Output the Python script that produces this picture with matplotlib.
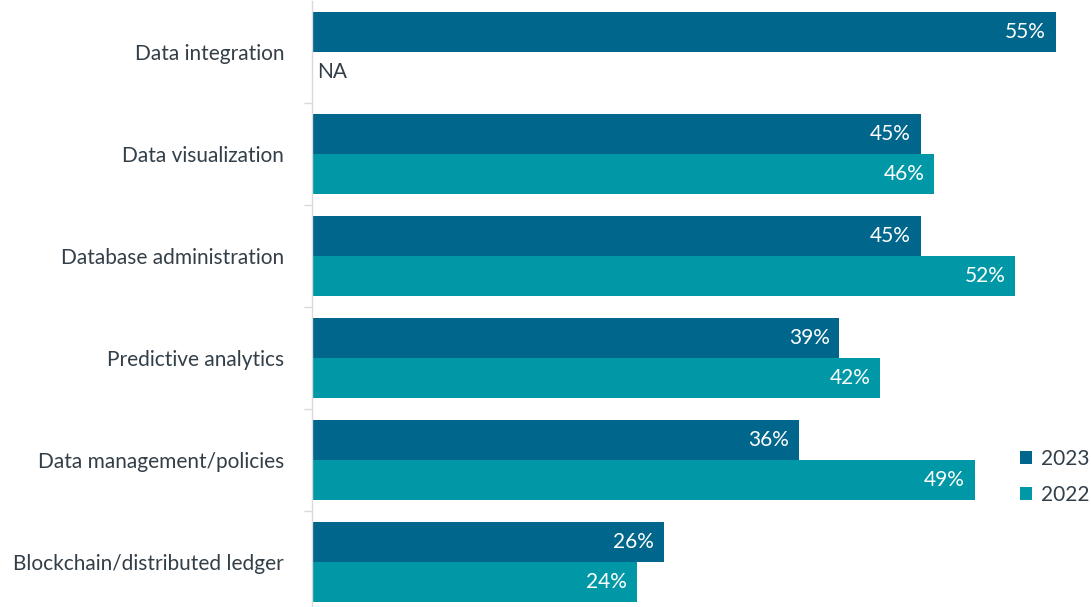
import matplotlib
matplotlib.use("Agg")
import matplotlib.pyplot as plt
from matplotlib.patches import Patch
import numpy as np

categories = [
    "Data integration",
    "Data visualization",
    "Database administration",
    "Predictive analytics",
    "Data management/policies",
    "Blockchain/distributed ledger",
]
values_2023 = [55, 45, 45, 39, 36, 26]
values_2022 = [None, 46, 52, 42, 49, 24]
series_labels = ["2023", "2022"]

color_2023 = "#00668C"
color_2022 = "#0098A6"
text_color = "#333F48"
font = ["Lato", "DejaVu Sans"]
fs = 15

W, H = 1091, 607
fig = plt.figure(figsize=(W / 100, H / 100), dpi=100)
ax_left, ax_right = 312, 1091
ax_top, ax_bottom = 1, 613
ax = fig.add_axes([ax_left / W, 1 - ax_bottom / H, (ax_right - ax_left) / W,
                   (ax_bottom - ax_top) / H])

n = len(categories)
bar_h = 0.395
centers = np.arange(n)

for i in range(n):
    y23 = centers[i] - bar_h / 2
    y22 = centers[i] + bar_h / 2
    v23 = values_2023[i]
    ax.barh(y23, v23, height=bar_h, color=color_2023, edgecolor="none")
    ax.text(v23 - 0.72, y23, f"{v23}%", ha="right", va="center",
            color="white", fontsize=fs, family=font)
    v22 = values_2022[i]
    if v22 is None:
        ax.text(0.4, y22, "NA", ha="left", va="center",
                color=text_color, fontsize=fs, family=font)
    else:
        ax.barh(y22, v22, height=bar_h, color=color_2022, edgecolor="none")
        ax.text(v22 - 0.72, y22, f"{v22}%", ha="right", va="center",
                color="white", fontsize=fs, family=font)

ax.set_xlim(0, 57.6)
ax.set_ylim(n - 0.5, -0.5)
ax.set_yticks(centers)
ax.set_yticklabels(categories, family=font, fontsize=fs, color=text_color)
ax.tick_params(axis="y", which="major", length=0, pad=20)
ax.set_yticks(np.arange(n) + 0.5, minor=True)
ax.tick_params(axis="y", which="minor", length=6, color="#D9D9D9", width=1)
ax.set_xticks([])
for s in ["top", "right", "bottom"]:
    ax.spines[s].set_visible(False)
ax.spines["left"].set_color("#D9D9D9")
ax.spines["left"].set_linewidth(1)

handles = [Patch(facecolor=color_2023, label=series_labels[0]),
           Patch(facecolor=color_2022, label=series_labels[1])]
fig.legend(handles=handles, loc="center right",
           bbox_to_anchor=(1089 / W, 1 - 477 / H), frameon=False,
           borderpad=0, borderaxespad=0,
           prop={"family": font, "size": fs}, labelcolor=text_color,
           handlelength=0.6, handleheight=0.6, handletextpad=0.4,
           labelspacing=0.75)

fig.savefig("out.png", dpi=100)
